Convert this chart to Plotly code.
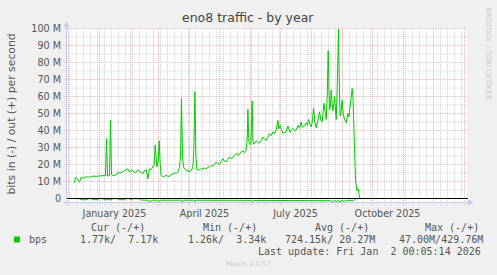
import plotly.graph_objects as go
import pandas as pd

# ---- data (days since 2024-12-01, values in Mbit/s) ----
out_days = [5.7, 7.0, 8.7, 11.0, 12.7, 15.0, 17.7, 21.0, 24.4, 27.7, 31.0, 34.4, 37.0, 38.0, 39.0,
            41.0, 42.0, 43.0, 45.4, 47.7, 49.4, 51.7, 54.4, 57.0, 59.4, 61.0, 62.7, 64.4, 66.0, 67.7,
            69.4, 71.0, 72.7, 74.4, 76.0, 77.7, 79.4, 81.0, 82.7, 84.4, 85.7, 86.7, 87.7, 88.4, 89.7,
            90.7, 91.7, 92.7, 95.0, 97.7, 99.4, 101.0, 102.7, 104.4, 106.0, 107.7, 109.4, 111.0, 112.0,
            113.0, 114.0, 115.0, 117.7, 121.0, 122.7, 124.4, 125.4, 126.4, 127.4, 128.4, 131.0, 132.7,
            134.4, 136.0, 137.7, 139.4, 141.0, 142.7, 144.4, 146.0, 147.7, 149.4, 151.0, 152.7, 154.4,
            156.0, 157.7, 159.4, 161.0, 162.7, 164.4, 166.0, 167.7, 169.4, 171.0, 172.7, 174.4, 176.0,
            177.7, 178.7, 179.4, 180.4, 181.0, 182.4, 183.0, 183.7, 184.4, 185.0, 186.4, 187.7, 189.4,
            191.0, 192.7, 194.4, 196.0, 197.7, 199.4, 201.0, 202.7, 204.4, 206.0, 207.7, 209.4, 210.4,
            211.7, 213.0, 214.4, 216.0, 217.7, 219.4, 220.7, 221.7, 223.0, 224.4, 226.0, 227.7, 229.4,
            231.0, 232.7, 233.7, 235.0, 236.4, 237.7, 239.0, 240.0, 241.4, 242.7, 244.0, 245.0, 246.4,
            247.7, 249.4, 251.0, 252.4, 253.7, 255.4, 256.7, 257.7, 258.7, 259.7, 260.4, 261.0, 262.0,
            262.7, 263.7, 264.4, 265.4, 266.0, 267.0, 267.7, 268.7, 270.0, 271.0, 271.7, 272.7, 273.7,
            274.7, 276.0, 277.7, 278.7, 279.4, 280.4, 281.0, 282.4, 283.7, 284.4, 285.0, 286.0, 287.0,
            287.7, 288.4, 289.0, 289.7, 290.4, 291.0]
out_mbps = [9.3, 12.6, 11.5, 9.6, 12.4, 12.0, 12.8, 12.5, 13.2, 13.0, 13.3, 13.4, 13.5, 35.3, 13.2,
            13.5, 46.0, 14.0, 13.5, 13.8, 15.5, 15.0, 16.0, 16.5, 17.5, 15.5, 16.5, 16.5, 15.3, 15.5,
            16.8, 16.0, 15.0, 14.5, 16.5, 17.0, 11.6, 17.5, 17.0, 18.5, 20.0, 31.3, 20.0, 18.5, 22.0,
            33.9, 20.0, 13.5, 12.6, 13.8, 13.0, 13.0, 14.0, 14.5, 15.0, 14.8, 15.5, 18.5, 25.0,
            59.2, 25.0, 18.5, 16.5, 16.0, 16.3, 18.5, 30.0, 62.8, 25.0, 17.0, 16.8, 17.5,
            17.5, 18.0, 17.2, 18.5, 18.5, 19.5, 19.0, 20.0, 21.5, 20.5, 20.0, 21.5, 23.4,
            22.0, 21.5, 23.0, 24.4, 23.5, 24.0, 25.5, 26.4, 25.5, 26.0, 27.5, 28.0, 27.0,
            28.5, 35.0, 52.4, 33.0, 31.9, 32.0, 40.0, 57.3, 35.0, 32.1, 32.5, 33.9, 33.0,
            32.5, 34.0, 36.2, 35.0, 34.2, 36.0, 38.2, 37.0, 39.2, 38.0, 40.2, 46.0, 41.0,
            43.0, 40.0, 38.2, 38.8, 39.2, 42.5, 40.0, 38.8, 40.5, 41.2, 40.0, 40.2, 43.0,
            41.2, 45.0, 42.0, 42.2, 43.5, 44.5, 43.0, 46.5, 43.5, 42.2, 46.0, 53.0, 45.0,
            41.6, 46.0, 51.0, 46.0, 45.0, 56.0, 50.0, 46.5, 60.0, 87.0, 68.0, 52.0, 55.0,
            63.8, 55.0, 51.5, 56.0, 60.0, 52.0, 46.5, 65.0, 99.6, 62.0, 48.5, 52.0, 57.9,
            50.0, 46.5, 44.5, 47.0, 50.0, 48.0, 51.0, 58.0, 64.8, 60.0, 52.0, 30.0, 10.6,
            6.0, 4.7, 5.5, 5.7, 3.0, 0.5]

in_days = [5.7, 11.0, 12.0, 19.0, 20.0, 23.5, 24.0, 29.5, 30.0, 34.5, 35.0, 43.5, 44.0, 49.5, 50.0,
           56.5, 57.0, 61.5, 62.0, 63.5, 64.0, 71.0, 72.0, 80.0, 81.5, 83.0, 89.5, 90.5, 91.5, 113.0,
           114.0, 115.0, 125.5, 126.5, 127.5, 150.0, 183.0, 184.0, 185.0, 220.0, 258.0, 260.0, 262.0,
           264.0, 266.0, 268.0, 270.5, 271.5, 272.5, 276.0, 280.0, 285.0, 287.0, 288.0]
in_mbps = [-0.1, -0.1, -0.7, -0.7, -0.1, -0.1, -0.7, -0.7, -0.1, -0.1, -0.7, -0.7, -0.1, -0.1, -0.7,
           -0.7, -0.1, -0.1, -0.7, -0.7, -0.1, -0.2, -0.9, -1.0, -2.2, -1.0, -1.0, -1.9, -1.0, -1.0,
           -2.1, -1.0, -1.0, -1.9, -1.0, -1.1, -1.1, -2.0, -1.1, -1.2, -1.2, -1.6, -1.3,
           -1.8, -1.3, -1.6, -1.3, -2.2, -1.3, -1.5, -1.1, -1.1, -0.3, 0.0]

y_tick_vals = [0, 10, 20, 30, 40, 50, 60, 70, 80, 90, 100]
y_tick_text = ["0", "10 M", "20 M", "30 M", "40 M", "50 M", "60 M", "70 M", "80 M", "90 M", "100 M"]
x_tick_vals = ["2025-01-16", "2025-04-16", "2025-07-16", "2025-10-16"]
x_tick_text = ["January 2025", "April 2025", "July 2025", "October 2025"]

legend_headers = ["Cur (-/+)", "Min (-/+)", "Avg (-/+)", "Max (-/+)"]
legend_values = ["1.77k/  7.17k", "1.26k/  3.34k", "724.15k/ 20.27M", "47.00M/429.76M"]

# ---- layout constants ----
W, H = 497, 275
L, R, T, B = 67, 30, 28, 72
PW, PH = W - L - R, H - T - B
GREEN = "#00CC00"
base = pd.Timestamp("2024-12-01")
x0 = base - pd.Timedelta(days=1.5)
x1 = x0 + pd.Timedelta(days=PW)
PXM = 1.7                      # pixels per Mbit
y_range = [-(H - B - 198.5) / PXM, (198.5 - T) / PXM]


def px(x):
    return (x - L) / PW


def py(y):
    return (H - B - y) / PH


out_dates = base + pd.to_timedelta(out_days, unit="D")
in_dates = base + pd.to_timedelta(in_days, unit="D")

fig = go.Figure()
fig.add_trace(go.Scatter(x=out_dates, y=out_mbps, mode="lines",
                         line=dict(color=GREEN, width=1), hoverinfo="skip"))
fig.add_trace(go.Scatter(x=in_dates, y=in_mbps, mode="lines",
                         line=dict(color=GREEN, width=1), hoverinfo="skip"))

shapes = []
GRID_MINOR = "#D0D0D0"
GRID_MAJOR = "#EAB0B0"
DOT = "1px,1px"
# horizontal grid
for v in range(5, 100, 10):
    shapes.append(dict(type="line", xref="paper", yref="y", x0=-0.006, x1=1, y0=v, y1=v,
                       line=dict(color=GRID_MINOR, width=1, dash=DOT), layer="below"))
for v in range(10, 101, 10):
    shapes.append(dict(type="line", xref="paper", yref="y", x0=-0.006, x1=1, y0=v, y1=v,
                       line=dict(color=GRID_MAJOR, width=1, dash=DOT), layer="below"))
# vertical grid: weekly (Mondays) minor, monthly major
for d in pd.date_range("2024-12-02", "2025-12-31", freq="7D"):
    shapes.append(dict(type="line", xref="x", yref="paper", x0=d, x1=d, y0=-0.012, y1=1,
                       line=dict(color=GRID_MINOR, width=1, dash=DOT), layer="below"))
for d in pd.date_range("2024-12-01", "2026-01-01", freq="MS"):
    shapes.append(dict(type="line", xref="x", yref="paper", x0=d, x1=d, y0=-0.012, y1=1,
                       line=dict(color=GRID_MAJOR, width=1, dash=DOT), layer="below"))
AX = "#C6CAF0"
# y axis with arrow
shapes.append(dict(type="line", xref="paper", yref="paper", x0=px(66.5), x1=px(66.5), y0=py(205), y1=py(24),
                   line=dict(color=AX, width=1)))
shapes.append(dict(type="path", xref="paper", yref="paper",
                   path=f"M {px(63.5)} {py(27)} L {px(69.5)} {py(27)} L {px(66.5)} {py(21)} Z",
                   fillcolor=AX, line=dict(color=AX, width=0)))
# x axis with arrow
shapes.append(dict(type="line", xref="paper", yref="paper", x0=px(64), x1=px(470), y0=py(202.5), y1=py(202.5),
                   line=dict(color=AX, width=1)))
shapes.append(dict(type="path", xref="paper", yref="paper",
                   path=f"M {px(468)} {py(199.5)} L {px(468)} {py(205.5)} L {px(474)} {py(202.5)} Z",
                   fillcolor=AX, line=dict(color=AX, width=0)))
# zero line
shapes.append(dict(type="line", xref="paper", yref="y", x0=0, x1=px(468), y0=0, y1=0,
                   line=dict(color="#000000", width=1)))
# legend swatch
shapes.append(dict(type="rect", xref="paper", yref="paper", x0=px(14), x1=px(20),
                   y0=py(242.5), y1=py(236.5), fillcolor=GREEN, line=dict(width=0)))

MONO = "DejaVu Sans Mono"
SANS = "DejaVu Sans"
TXT = "#555555"
ann = []


def text(x, y, s, size=10, font=MONO, color=TXT, xanchor="left", angle=0):
    ann.append(dict(x=px(x), y=py(y), xref="paper", yref="paper", text=s, showarrow=False,
                    xanchor=xanchor, yanchor="middle", textangle=angle,
                    font=dict(family=font, size=size, color=color)))


text(248.3, 18, "eno8 traffic - by year", size=12.5, font=SANS, color="#444444", xanchor="center")
text(11, 114.5, "bits in (-) / out (+) per second", size=10.8, font=SANS, xanchor="center", angle=-90)
text(488, 53.5, "RRDTOOL / TOBI OETIKER", size=7.2, font=SANS, color="#C8C8C8", xanchor="center", angle=90)
for xh, s in zip([89, 201, 312.7, 422.7], legend_headers):
    text(xh, 227.7, s)
text(27, 239.3, "bps")
for xv, s in zip([78, 186, 283, 396.7], legend_values):
    text(xv, 239.3, s)
text(482.7, 251, "Last update: Fri Jan  2 00:05:14 2026", xanchor="right")
text(248, 264, "Munin 2.0.57", size=6.9, font=SANS, color="#C8C8C8", xanchor="center")

fig.update_layout(
    width=W, height=H, margin=dict(l=L, r=R, t=T, b=B, pad=0),
    paper_bgcolor="#F0F0F0", plot_bgcolor="#FFFFFF", showlegend=False,
    shapes=shapes, annotations=ann,
    xaxis=dict(range=[x0, x1], showgrid=False, zeroline=False, showline=False,
               tickmode="array", tickvals=x_tick_vals, ticktext=x_tick_text, ticks="",
               tickfont=dict(family=SANS, size=9.6, color=TXT), ticklabelstandoff=3),
    yaxis=dict(range=y_range, showgrid=False, zeroline=False, showline=False,
               tickmode="array", tickvals=y_tick_vals, ticktext=y_tick_text, ticks="",
               tickfont=dict(family=SANS, size=9.6, color=TXT), ticklabelstandoff=5),
)
fig.write_html("out.html")
